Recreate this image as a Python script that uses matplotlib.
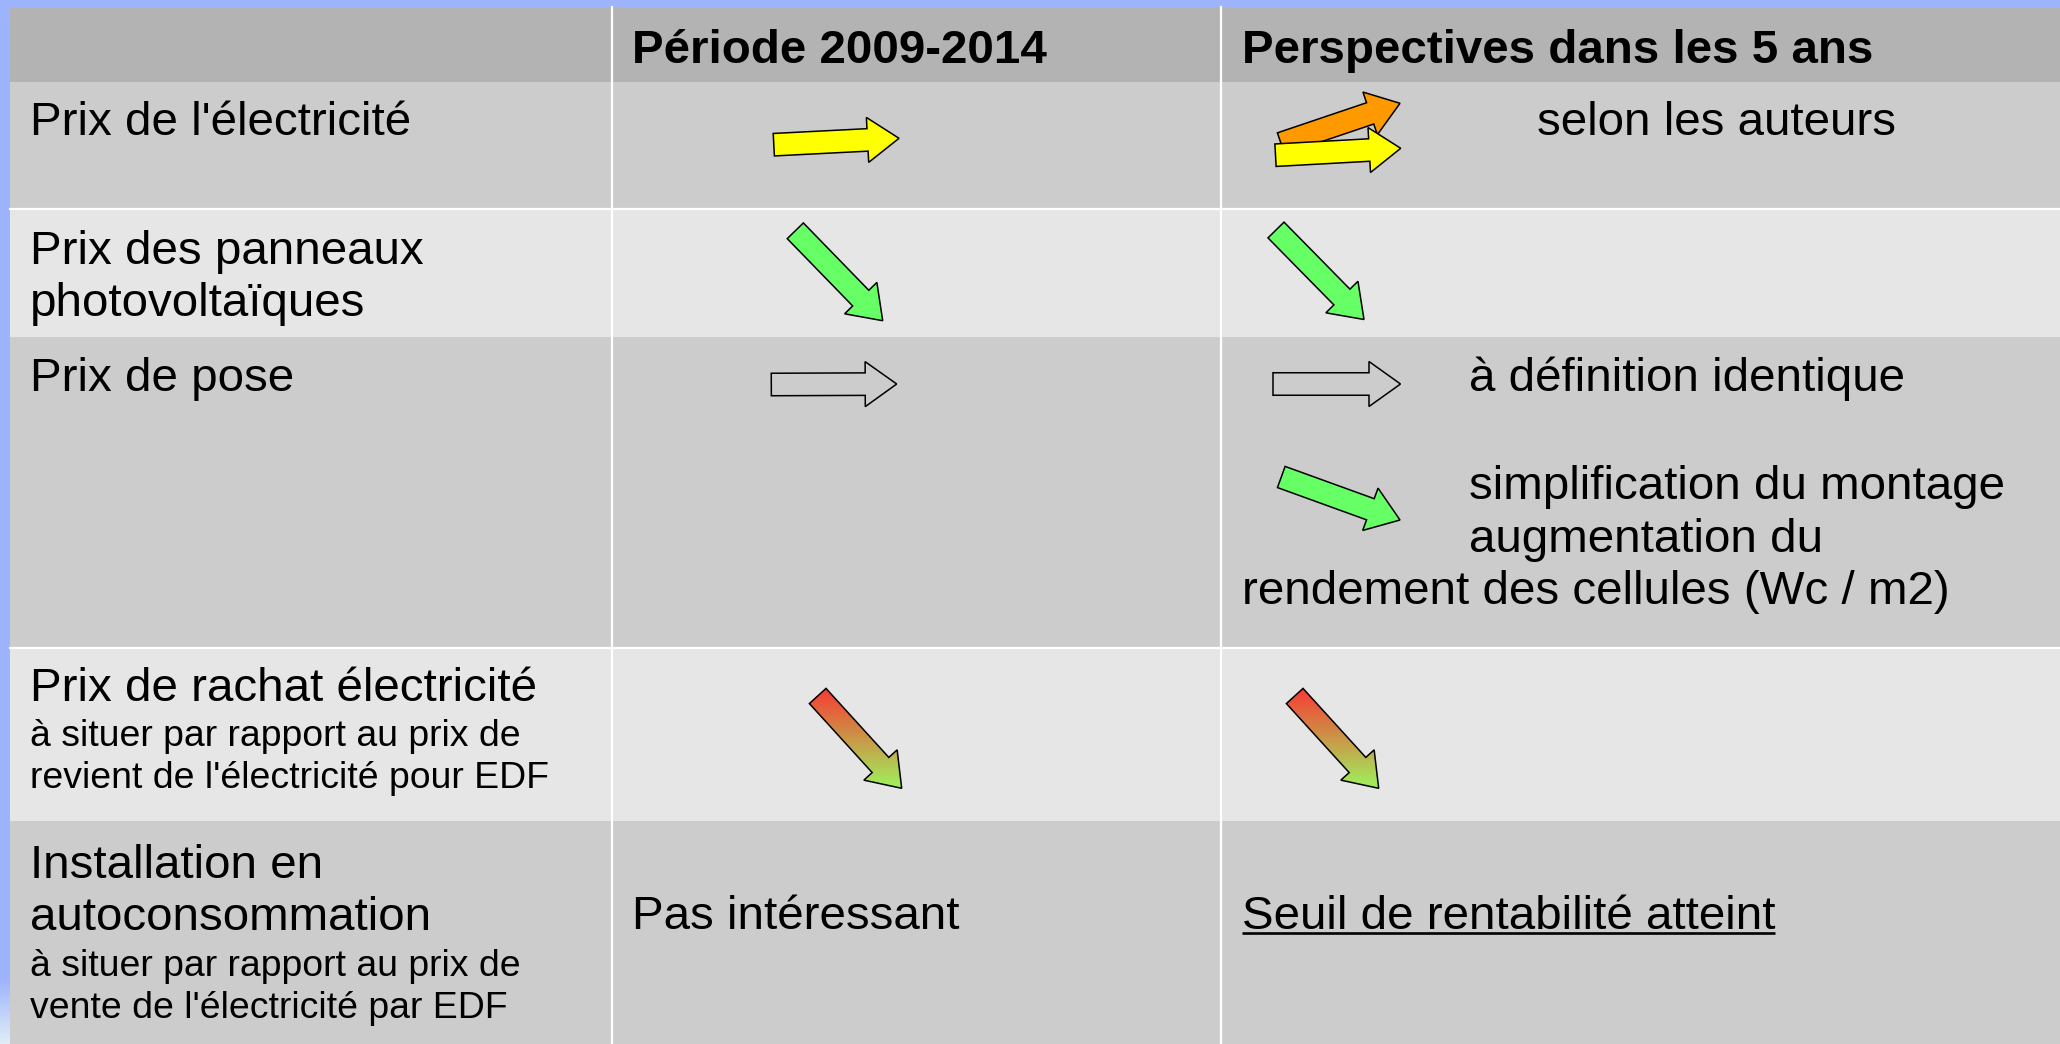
import numpy as np
import matplotlib.pyplot as plt
from matplotlib.patches import Polygon, Rectangle

plt.rcParams["font.family"] = ["Liberation Sans", "DejaVu Sans"]

W, H = 2060, 1044

# --- table content -------------------------------------------------------
HEADERS = ["Période 2009-2014", "Perspectives dans les 5 ans"]

ROW_TITLES = [
    ["Prix de l'électricité"],
    ["Prix des panneaux", "photovoltaïques"],
    ["Prix de pose"],
    ["Prix de rachat électricité"],
    ["Installation en", "autoconsommation"],
]
ROW_NOTES = [
    [],
    [],
    [],
    ["à situer par rapport au prix de", "revient de l'électricité pour EDF"],
    ["à situer par rapport au prix de", "vente de l'électricité par EDF"],
]

PERIOD_TEXT = ["", "", "", "", "Pas intéressant"]
OUTLOOK_TEXT = ["selon les auteurs", "", "à définition identique", "", ""]
OUTLOOK_NOTE = ["simplification du montage", "augmentation du",
                "rendement des cellules (Wc / m2)"]
OUTLOOK_LAST = "Seuil de rentabilité atteint"

# trend arrows: (row, column, kind)
ARROWS = [
    (0, 1, "hausse"),
    (0, 2, "hausse_forte"),
    (0, 2, "hausse"),
    (1, 1, "baisse"),
    (1, 2, "baisse"),
    (2, 1, "stable"),
    (2, 2, "stable"),
    (2, 2, "baisse_douce"),
    (3, 1, "baisse_rachat"),
    (3, 2, "baisse_rachat"),
]

# --- layout (pixels) -----------------------------------------------------
ROW_EDGES = [7, 82, 209, 337, 648, 821, 1044]
ROW_COLORS = ["#b3b3b3", "#cccccc", "#e6e6e6", "#cccccc", "#e6e6e6", "#cccccc"]
COL_EDGES = [10, 612, 1221, W]
TEXT_X = [30, 632, 1241.5]
INDENT_X = 1469
TITLE_BASE = [135, 264, 391, 701, 878]
LINE_BIG = 52.5
LINE_SMALL = 42
BIG = 34.2
SMALL = 26.9

ARROW_STYLE = {
    "hausse": {"face": "#ffff00"},
    "hausse_forte": {"face": "#ff9900"},
    "baisse": {"face": "#66ff66"},
    "baisse_douce": {"face": "#66ff66"},
    "stable": {"face": "none"},
    "baisse_rachat": {"face": "gradient"},
}
# tail centre / tip offsets from the cell's top-left corner
ARROW_GEOM = {
    (0, 1, "hausse"): ((161.8, 62.7), (287, 56.3)),
    (0, 2, "hausse_forte"): ((60, 61.5), (179, 21.3)),
    (0, 2, "hausse"): ((54.5, 73.2), (179.7, 66.3)),
    (1, 1, "baisse"): ((183.3, 21.8), (270.7, 111.7)),
    (1, 2, "baisse"): ((55, 21.0), (143, 110.5)),
    (2, 1, "stable"): ((159.3, 47.5), (284.7, 47)),
    (2, 2, "stable"): ((52, 47), (179.5, 47)),
    (2, 2, "baisse_douce"): ((60.3, 140), (179, 183)),
    (3, 1, "baisse_rachat"): ((205.7, 48), (289.7, 140.3)),
    (3, 2, "baisse_rachat"): ((73.7, 48), (157.7, 140.3)),
}
BODY_W, HEAD_W, HEAD_L = 22.5, 45, 31.5


def arrow_points(tail, tip):
    tail = np.asarray(tail, float)
    tip = np.asarray(tip, float)
    d = tip - tail
    d /= np.hypot(*d)
    n = np.array([-d[1], d[0]])
    base = tip - d * HEAD_L
    b, h = BODY_W / 2, HEAD_W / 2
    return np.array([
        tail + n * b, base + n * b, base + n * h, tip,
        base - n * h, base - n * b, tail - n * b,
    ])


def draw_arrow(ax, pts, kind):
    face = ARROW_STYLE[kind]["face"]
    if face == "gradient":
        poly = Polygon(pts, closed=True, facecolor="none", edgecolor="black",
                       lw=1.1, zorder=4)
        ax.add_patch(poly)
        top, bot = pts[:, 1].min(), pts[:, 1].max()
        c0 = np.array([248, 58, 52]) / 255
        c1 = np.array([158, 242, 92]) / 255
        t = np.linspace(0, 1, 200)[:, None]
        grad = (c0 * (1 - t) + c1 * t)[:, None, :]
        im = ax.imshow(grad, extent=(pts[:, 0].min(), pts[:, 0].max(), bot, top),
                       origin="upper", aspect="auto", zorder=3,
                       interpolation="bilinear")
        im.set_clip_path(poly)
    else:
        ax.add_patch(Polygon(pts, closed=True, facecolor=face, edgecolor="black",
                             lw=1.1, zorder=4, joinstyle="miter"))


def plot_table():
    fig = plt.figure(figsize=(W / 100, H / 100), dpi=100, facecolor="#9db4fc")
    ax = fig.add_axes([0, 0, 1, 1])
    ax.set_xlim(0, W)
    ax.set_ylim(H, 0)
    ax.axis("off")

    # lighter sky patch in the lower-left margin
    sky = np.linspace(0, 1, 60)[:, None]
    sky = np.dstack([0.62 + 0.26 * sky, 0.71 + 0.22 * sky, 0.99 - 0.02 * sky])
    ax.imshow(sky, extent=(0, COL_EDGES[0], H, 980), aspect="auto", zorder=0)

    # rows
    for i, color in enumerate(ROW_COLORS):
        ax.add_patch(Rectangle((COL_EDGES[0], ROW_EDGES[i]), W - COL_EDGES[0],
                               ROW_EDGES[i + 1] - ROW_EDGES[i],
                               facecolor=color, edgecolor="none", zorder=1))
    for y in (ROW_EDGES[2], ROW_EDGES[4]):
        ax.plot([COL_EDGES[0], W], [y, y], color="white", lw=1.6, zorder=2)
    for x in COL_EDGES[1:3]:
        ax.plot([x, x], [ROW_EDGES[0], H], color="white", lw=1.6, zorder=2)

    # headers
    for j, head in enumerate(HEADERS):
        ax.text(TEXT_X[j + 1], 63, head, fontsize=BIG, fontweight="bold",
                va="baseline", ha="left", zorder=5)

    # row labels
    for i, lines in enumerate(ROW_TITLES):
        y = TITLE_BASE[i]
        for line in lines:
            ax.text(TEXT_X[0], y, line, fontsize=BIG, va="baseline", zorder=5)
            y += LINE_BIG
        y += SMALL * 0.12 - (LINE_BIG - LINE_SMALL)
        for note in ROW_NOTES[i]:
            ax.text(TEXT_X[0], y, note, fontsize=SMALL, va="baseline", zorder=5)
            y += LINE_SMALL

    # period column
    for i, txt in enumerate(PERIOD_TEXT):
        if txt:
            ax.text(TEXT_X[1], TITLE_BASE[i] + 51, txt, fontsize=BIG,
                    va="baseline", zorder=5)

    # outlook column
    ax.text(1537, TITLE_BASE[0], OUTLOOK_TEXT[0], fontsize=BIG, va="baseline", zorder=5)
    ax.text(INDENT_X, TITLE_BASE[2], OUTLOOK_TEXT[2], fontsize=BIG, va="baseline", zorder=5)
    ax.text(INDENT_X, 499, OUTLOOK_NOTE[0], fontsize=BIG, va="baseline", zorder=5)
    ax.text(INDENT_X, 552, OUTLOOK_NOTE[1], fontsize=BIG, va="baseline", zorder=5)
    ax.text(TEXT_X[2], 604, OUTLOOK_NOTE[2], fontsize=BIG, va="baseline", zorder=5)
    last = ax.text(TEXT_X[2], 929, OUTLOOK_LAST, fontsize=BIG, va="baseline", zorder=5)

    fig.canvas.draw()
    bb = last.get_window_extent().transformed(ax.transData.inverted())
    ax.plot([TEXT_X[2], max(bb.x0, bb.x1)], [933, 933], color="black", lw=1.9,
            zorder=5, solid_capstyle="butt")

    # arrows
    for row, col, kind in ARROWS:
        (tx, ty), (hx, hy) = ARROW_GEOM[(row, col, kind)]
        ox, oy = COL_EDGES[col], ROW_EDGES[row + 1]
        pts = arrow_points((ox + tx, oy + ty), (ox + hx, oy + hy))
        draw_arrow(ax, pts, kind)

    ax.set_xlim(0, W)
    ax.set_ylim(H, 0)
    fig.savefig("out.png", dpi=100, facecolor=fig.get_facecolor())


if __name__ == "__main__":
    plot_table()
